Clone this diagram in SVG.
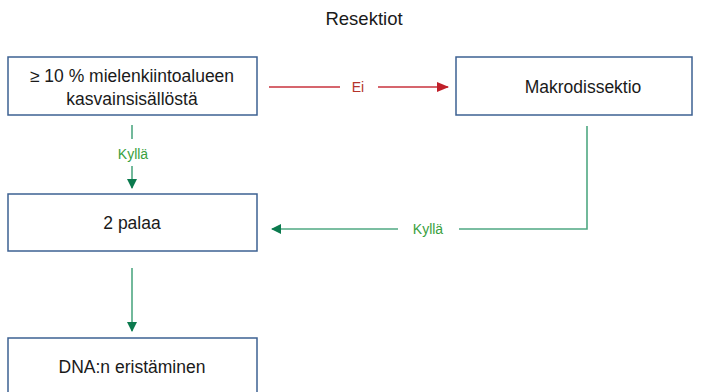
<svg xmlns="http://www.w3.org/2000/svg" width="701" height="392" viewBox="0 0 701 392">
<style>
.box{fill:#fff;stroke:#3d6192;stroke-width:1.5}
.t{font-family:"Liberation Sans",Arial,sans-serif;font-size:17.5px;fill:#1a1a1a;text-anchor:middle}
.lbl{font-family:"Liberation Sans",Arial,sans-serif;font-size:14px;text-anchor:middle}
.g{stroke:#4fa882;stroke-width:1.6;fill:none}
.r{stroke:#c8323c;stroke-width:1.6;fill:none}
</style>
<defs>
<marker id="ag" markerWidth="10" markerHeight="10" refX="9" refY="5" orient="auto" markerUnits="userSpaceOnUse"><path d="M0,0 L10,5 L0,10 Z" fill="#0b7a4e"/></marker>
<marker id="ar" markerWidth="12" markerHeight="10" refX="11" refY="5" orient="auto" markerUnits="userSpaceOnUse"><path d="M0,0 L12,5 L0,10 Z" fill="#c0202a"/></marker>
</defs>
<text x="364" y="25" class="t" style="font-size:18.5px">Resektiot</text>
<g id="n1"><rect class="box" x="8" y="57" width="249" height="58"/><text class="t" x="132" y="82">≥ 10 % mielenkiintoalueen</text><text class="t" x="132" y="105">kasvainsisällöstä</text></g>
<g id="n2"><rect class="box" x="456" y="57" width="236" height="58"/><text class="t" x="583" y="93">Makrodissektio</text></g>
<g id="n3"><rect class="box" x="8" y="194" width="249" height="57"/><text class="t" x="132" y="229">2 palaa</text></g>
<g id="n4"><rect class="box" x="8" y="338" width="249" height="60"/><text class="t" x="132" y="373">DNA:n eristäminen</text></g>
<g id="connectors">
<line class="r" x1="269" y1="87" x2="340" y2="87"/>
<line class="r" x1="378" y1="87" x2="448" y2="87" marker-end="url(#ar)"/>
<text class="lbl" x="358" y="92" fill="#b5332a">Ei</text>
<line class="g" x1="132" y1="125" x2="132" y2="139"/>
<text class="lbl" x="133" y="159" fill="#3aa040">Kyllä</text>
<line class="g" x1="132" y1="166" x2="132" y2="188" marker-end="url(#ag)"/>
<polyline class="g" points="587,126 587,229 459,229"/>
<text class="lbl" x="428" y="234" fill="#3aa040">Kyllä</text>
<line class="g" x1="398" y1="229" x2="272" y2="229" marker-end="url(#ag)"/>
<line class="g" x1="132" y1="268" x2="132" y2="331" marker-end="url(#ag)"/>
</g>
</svg>
